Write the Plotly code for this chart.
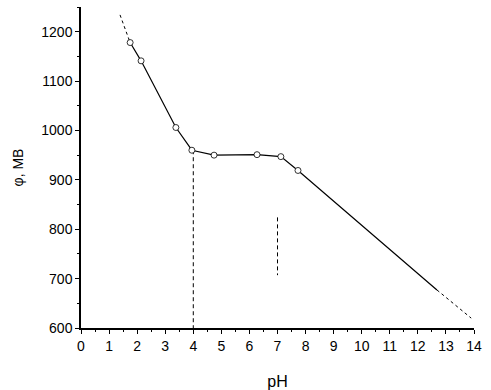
import plotly.graph_objects as go

# Experimental points (open circles)
ph_pts = [1.75, 2.14, 3.38, 3.95, 4.74, 6.27, 7.12, 7.73]
phi_pts = [1178, 1141, 1006, 960, 950, 951, 947, 919]

# Solid curve vertices
ph_line = [1.75, 2.14, 3.38, 3.95, 4.74, 6.27, 7.12, 7.73, 12.68]
phi_line = [1178, 1141, 1006, 960, 950, 951, 947, 919, 677]

# Dotted extrapolations
ph_top = [1.39, 1.75]
phi_top = [1234, 1178]
ph_bot = [12.68, 13.9]
phi_bot = [677, 620]

# Dashed guides
ph_v4 = [4, 4]
phi_v4 = [960, 600]
ph_v7 = [7, 7]
phi_v7 = [824, 707]

x_ticks = list(range(0, 15))
y_ticks = [600, 700, 800, 900, 1000, 1100, 1200]

fig = go.Figure()
fig.add_trace(go.Scatter(x=ph_top, y=phi_top, mode="lines",
                         line=dict(color="black", width=1, dash="dot")))
fig.add_trace(go.Scatter(x=ph_bot, y=phi_bot, mode="lines",
                         line=dict(color="black", width=1, dash="dot")))
fig.add_trace(go.Scatter(x=ph_line, y=phi_line, mode="lines",
                         line=dict(color="black", width=1.2)))
fig.add_trace(go.Scatter(x=ph_v4, y=phi_v4, mode="lines",
                         line=dict(color="black", width=1, dash="4px,3px")))
fig.add_trace(go.Scatter(x=ph_v7, y=phi_v7, mode="lines",
                         line=dict(color="black", width=1, dash="4px,3px")))
fig.add_trace(go.Scatter(x=ph_pts, y=phi_pts, mode="markers",
                         marker=dict(symbol="circle", size=6, color="white",
                                     line=dict(color="black", width=0.8))))

axis_font = dict(family="Liberation Sans, Arial, sans-serif", size=14, color="black")
fig.update_layout(
    width=491, height=390,
    margin=dict(l=81, r=17, t=7, b=62),
    paper_bgcolor="white", plot_bgcolor="white",
    showlegend=False,
    font=axis_font,
    xaxis=dict(range=[0, 14], tickvals=x_ticks, ticktext=[str(v) for v in x_ticks],
               automargin=False,
               showgrid=False, zeroline=False, showline=True, linecolor="black",
               linewidth=1.5, ticks="outside", ticklen=4, tickwidth=1, tickcolor="black",
               minor=dict(dtick=0.5, ticks="outside", ticklen=2, tickcolor="black"),
               title=dict(text="pH", font=dict(size=16), standoff=27),
               tickfont=dict(size=14)),
    yaxis=dict(range=[600, 1250], tickvals=y_ticks, ticktext=[str(v) for v in y_ticks],
               automargin=False,
               showgrid=False, zeroline=False, showline=True, linecolor="black",
               linewidth=1.5, ticks="outside", ticklen=4, tickwidth=1, tickcolor="black",
               minor=dict(dtick=50, ticks="outside", ticklen=2, tickcolor="black"),
               title=dict(text="φ, МВ", font=dict(size=14), standoff=14),
               tickfont=dict(size=14)),
)

fig.write_html("out.html", config={"displayModeBar": False},
               post_script="document.body.style.margin='0';")
